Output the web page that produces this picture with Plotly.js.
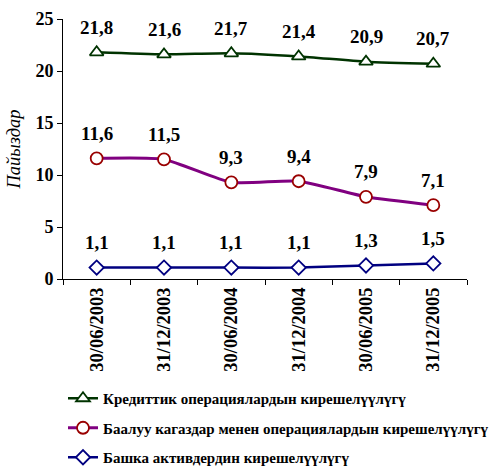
<!DOCTYPE html>
<html><head><meta charset="utf-8">
<script src="https://cdn.plot.ly/plotly-3.0.1.min.js"></script>
<style>body{margin:0;background:#fff}#c{width:497px;height:467px}</style>
</head><body><div id="c"></div>
<script>
const categories = ["30/06/2003","31/12/2003","30/06/2004","31/12/2004","30/06/2005","31/12/2005"];
const credit = [21.8, 21.6, 21.7, 21.4, 20.9, 20.7];
const securities = [11.6, 11.5, 9.3, 9.4, 7.9, 7.1];
const other = [1.1, 1.1, 1.1, 1.1, 1.3, 1.5];
const names = ["Кредиттик операциялардын кирешелүүлүгү",
               "Баалуу кагаздар менен операциялардын кирешелүүлүгү",
               "Башка активдердин кирешелүүлүгү"];
const yTicks = [0, 5, 10, 15, 20, 25];
const yTitle = "Пайыздар";

const font = "Liberation Serif";
function tr(y, name, lc, lw, sym, sz, mc, g){
  return {x: categories, y: y, name: name, type: 'scatter', mode: 'lines+markers',
    legendgroup: g,
    line: {color: lc, width: lw, shape: 'spline', smoothing: 0.6},
    marker: {symbol: sym, size: sz, color: '#fff', line: {color: mc, width: 1.8}}};
}
const data = [
  tr(credit, names[0], '#003300', 2.5, 'triangle-up', 12, '#003300', 'a'),
  tr(securities, names[1], '#800080', 3, 'circle', 12, '#990000', 'b'),
  tr(other, names[2], '#000080', 2.5, 'diamond', 11, '#000080', 'c')
];
const ann = [];
[credit, securities, other].forEach(s => s.forEach((v, i) => ann.push({
  x: categories[i], y: v, xref: 'x', yref: 'y', text: v.toFixed(1).replace('.', ','),
  showarrow: false, yshift: 25, font: {family: font, size: 19, color: '#000', weight: 'bold'}
})));
const layout = {
  width: 497, height: 467,
  margin: {l: 63, r: 30, t: 19, b: 188},
  paper_bgcolor: '#fff', plot_bgcolor: '#fff',
  font: {family: font, color: '#000'},
  showlegend: true,
  legend: {x: 0.0, xanchor: 'left', yref: 'container', y: 0.182, yanchor: 'top', traceorder: 'grouped',
    tracegroupgap: 7, font: {family: font, size: 15, weight: 'bold', color: '#000'},
    bgcolor: 'rgba(0,0,0,0)', itemwidth: 30},
  xaxis: {type: 'category', range: [-0.5, 5.5], showline: true, linecolor: '#000', linewidth: 1,
    ticks: 'outside', tickson: 'boundaries', ticklen: 5, tickcolor: '#000', showgrid: false,
    tickangle: -90, tickfont: {family: font, size: 18.5, weight: 'bold'}, zeroline: false},
  yaxis: {range: [0, 25], tickvals: yTicks, showline: true, linecolor: '#000', linewidth: 1,
    ticks: 'outside', ticklen: 5, tickcolor: '#000', showgrid: false, zeroline: false,
    tickfont: {family: font, size: 18, weight: 'bold'},
    title: {text: yTitle, standoff: 9, font: {family: font, size: 18.5, style: 'italic'}}},
  annotations: ann
};
Plotly.newPlot('c', data, layout, {displayModeBar: false, staticPlot: true});
</script></body></html>
